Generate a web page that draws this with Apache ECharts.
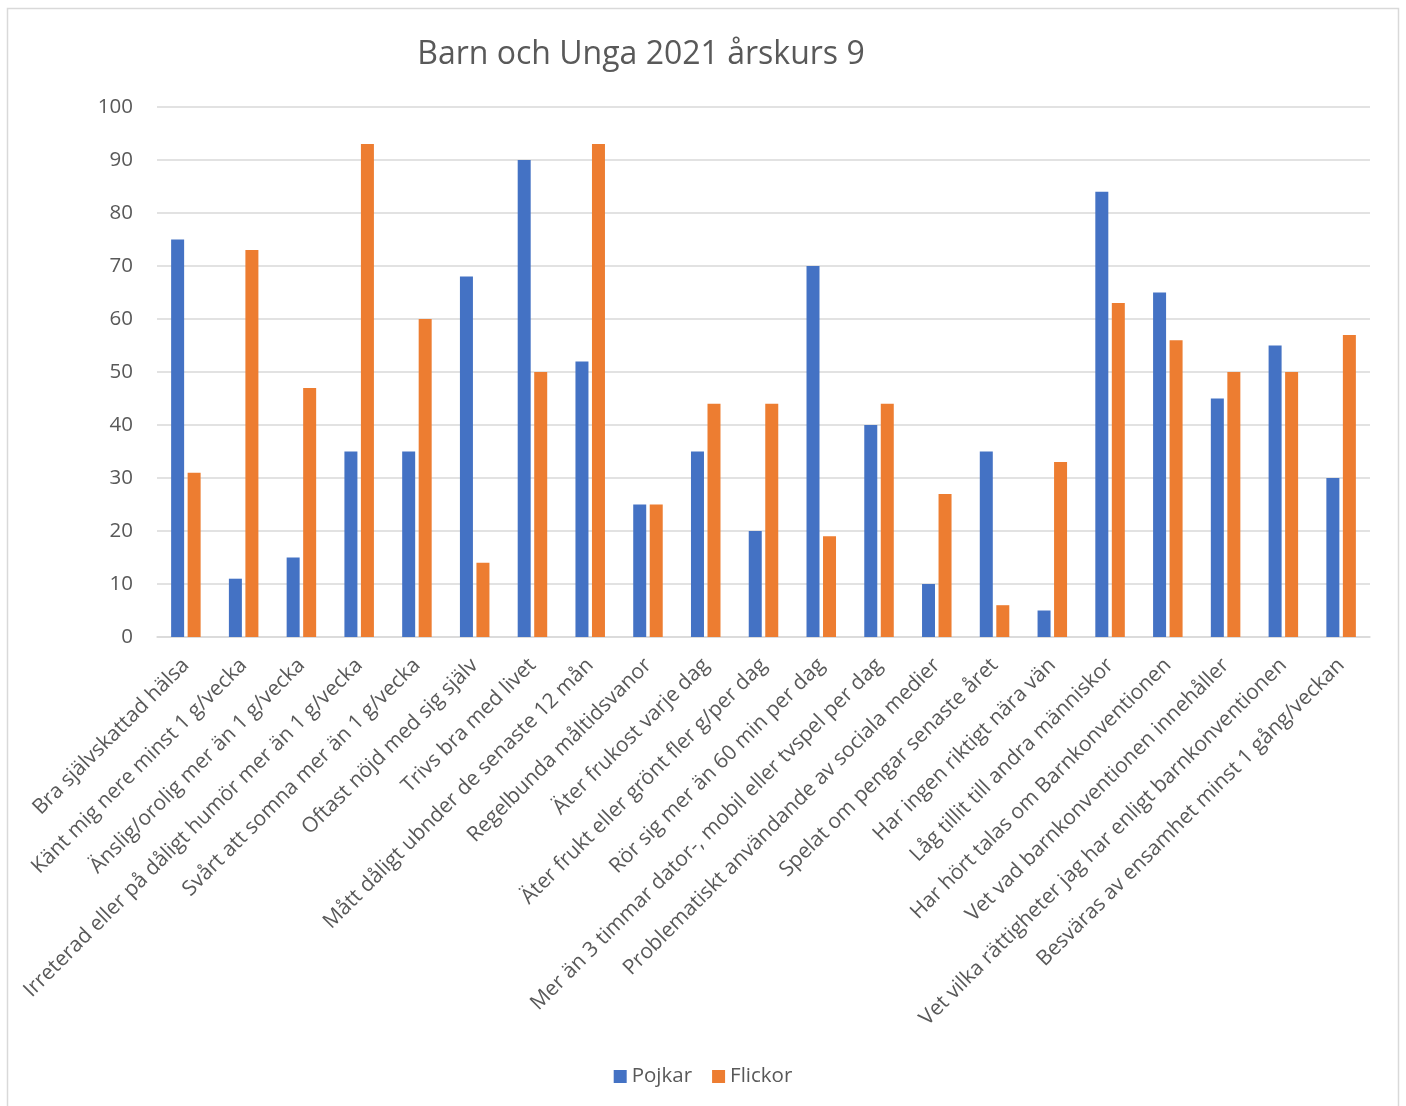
<!DOCTYPE html>
<html><head><meta charset="utf-8">
<script src="https://cdn.jsdelivr.net/npm/echarts@6/dist/echarts.min.js"></script>
<style>html,body{margin:0;padding:0;background:#fff}#c{width:1406px;height:1106px}</style>
</head><body><div id="c"></div>
<script>
const categories = [
  "Bra självskattad hälsa",
  "Känt mig nere minst 1 g/vecka",
  "Änslig/orolig mer än 1 g/vecka",
  "Irreterad eller på dåligt humör mer än 1 g/vecka",
  "Svårt att somna mer än 1 g/vecka",
  "Oftast nöjd med sig själv",
  "Trivs bra med livet",
  "Mått dåligt ubnder de senaste 12 mån",
  "Regelbunda måltidsvanor",
  "Äter frukost varje dag",
  "Äter frukt eller grönt fler g/per dag",
  "Rör sig mer än 60 min per dag",
  "Mer än 3 timmar dator-, mobil eller tvspel per dag",
  "Problematiskt användande av sociala medier",
  "Spelat om pengar senaste året",
  "Har ingen riktigt nära vän",
  "Låg tillit till andra människor",
  "Har hört talas om Barnkonventionen",
  "Vet vad barnkonventionen innehåller",
  "Vet vilka rättigheter jag har enligt barnkonventionen",
  "Besväras av ensamhet minst 1 gång/veckan"
];
const pojkar  = [75, 11, 15, 35, 35, 68, 90, 52, 25, 35, 20, 70, 40, 10, 35, 5, 84, 65, 45, 55, 30];
const flickor = [31, 73, 47, 93, 60, 14, 50, 93, 25, 44, 44, 19, 44, 27, 6, 33, 63, 56, 50, 50, 57];
const seriesNames = ["Pojkar", "Flickor"];
const titleText = "Barn och Unga 2021 årskurs 9";

const chart = echarts.init(document.getElementById('c'));
const font = "'Open Sans', 'DejaVu Sans', sans-serif";
chart.setOption({
  animation: false,
  textStyle: {fontFamily: font},
  graphic: [{type: 'rect', shape: {x: 7.5, y: 8.5, width: 1391, height: 1110}, style: {fill: 'none', stroke: '#d9d9d9', lineWidth: 1.5}, silent: true}],
  title: {text: titleText, left: 636, top: 34, textAlign: 'center',
    textStyle: {fontFamily: font, fontSize: 32, fontWeight: 'normal', color: '#595959'}},
  legend: {data: seriesNames, bottom: 14, left: 'center', itemWidth: 13, itemHeight: 13, itemGap: 20,
    icon: 'rect', textStyle: {fontFamily: font, fontSize: 20.5, color: '#595959'}},
  grid: {left: 157, right: 36, top: 107, bottom: 469, containLabel: false},
  xAxis: {type: 'category', data: categories,
    axisLine: {lineStyle: {color: '#d9d9d9', width: 1.5}},
    axisTick: {show: false},
    axisLabel: {rotate: 45, interval: 0, fontFamily: font, fontSize: 21, color: '#595959', margin: 25}},
  yAxis: {type: 'value', min: 0, max: 100, interval: 10,
    axisLine: {show: false}, axisTick: {show: false},
    splitLine: {lineStyle: {color: '#d9d9d9', width: 1.5}},
    axisLabel: {fontFamily: font, fontSize: 20.5, color: '#595959', margin: 24}},
  series: [
    {name: seriesNames[0], type: 'bar', data: pojkar, barWidth: 13, barGap: '27%', itemStyle: {color: '#4472C4'}},
    {name: seriesNames[1], type: 'bar', data: flickor, barWidth: 13, barGap: '27%', itemStyle: {color: '#ED7D31'}}
  ]
});
</script></body></html>
